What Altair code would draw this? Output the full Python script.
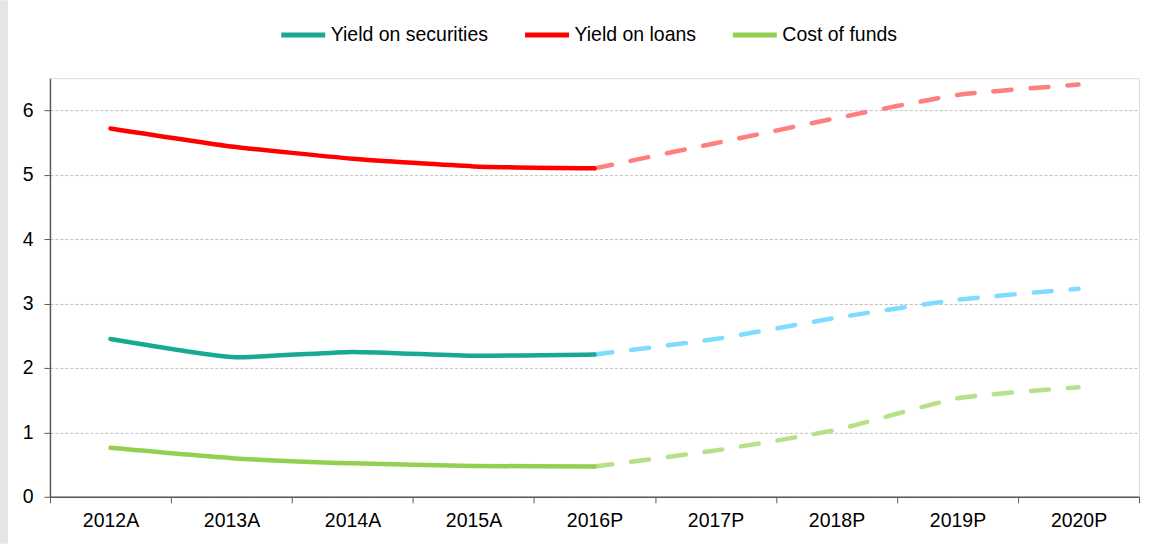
import altair as alt
import pandas as pd

categories = ["2012A", "2013A", "2014A", "2015A", "2016P", "2017P", "2018P", "2019P", "2020P"]
series_names = ["Yield on securities", "Yield on loans", "Cost of funds"]
yield_securities = [2.45, 2.17, 2.25, 2.19, 2.21, 2.45, 2.78, 3.06, 3.23]
yield_loans = [5.72, 5.44, 5.25, 5.13, 5.10, 5.49, 5.88, 6.24, 6.40]
cost_of_funds = [0.76, 0.60, 0.52, 0.48, 0.47, 0.72, 1.04, 1.53, 1.70]
actual_colors = ["#17A991", "#FF0000", "#92D050"]
proj_colors = ["#7FDCFF", "#FF7F7F", "#B6E08A"]
split_index = 4  # 2016P: last actual / first projected

rows = []
for name, vals in zip(series_names, [yield_securities, yield_loans, cost_of_funds]):
    for i, (c, v) in enumerate(zip(categories, vals)):
        if i <= split_index:
            rows.append({"year": c, "value": v, "series": name, "part": "actual", "pseries": name + " (P)"})
        if i >= split_index:
            rows.append({"year": c, "value": v, "series": name, "part": "proj", "pseries": name + " (P)"})
df = pd.DataFrame(rows)

W, H = 1090, 419
font = "Liberation Sans"

x_enc = alt.X("year:N", sort=categories, title=None,
              scale=alt.Scale(paddingInner=0, paddingOuter=0),
              axis=alt.Axis(labelAngle=0, tickBand="extent", labelFontSize=19.5, labelFont=font,
                            labelColor="#000000", labelPadding=9, tickSize=6, tickColor="#595959",
                            domainColor="#595959", domainWidth=1.5, grid=False))
y_enc = alt.Y("value:Q", title=None,
              scale=alt.Scale(domain=[0, 6.5], nice=False),
              axis=alt.Axis(values=[0, 1, 2, 3, 4, 5, 6], labelFontSize=19.5, labelFont=font,
                            labelColor="#000000", labelPadding=11, tickSize=6, tickColor="#595959",
                            domainColor="#595959", domainWidth=1.5, grid=True, gridColor="#BFBFBF",
                            gridDash=[3, 2], gridWidth=1))

base = alt.Chart(df)

actual = base.transform_filter(alt.datum.part == "actual").mark_line(
    interpolate="cardinal", tension=0.5, strokeWidth=4.5, strokeCap="round"
).encode(
    x=x_enc, y=y_enc,
    color=alt.Color("series:N", sort=series_names,
                    scale=alt.Scale(domain=series_names, range=actual_colors),
                    legend=alt.Legend(title=None, orient="none", direction="horizontal",
                                      legendX=229, legendY=-68, symbolType="stroke",
                                      symbolSize=1936, symbolStrokeWidth=5,
                                      labelFontSize=19.5, labelFont=font, labelColor="#000000",
                                      columnPadding=26, labelOffset=3, labelLimit=400)),
)

proj_domain = [n + " (P)" for n in series_names]
proj = base.transform_filter(alt.datum.part == "proj").mark_line(
    interpolate="cardinal", tension=0.5, strokeWidth=4.5, strokeCap="round", strokeDash=[18, 19]
).encode(
    x=x_enc, y=y_enc,
    color=alt.Color("pseries:N", scale=alt.Scale(domain=proj_domain, range=proj_colors), legend=None),
)

strip = alt.Chart(pd.DataFrame({"a": [0]})).mark_rect(color="#E5E6E5").encode(
    x=alt.value(-50), x2=alt.value(-42), y=alt.value(-78), y2=alt.value(H + 47)
)

chart = alt.layer(strip, proj, actual).resolve_scale(color="independent").properties(
    width=W, height=H,
    padding={"left": 0, "top": 0, "right": 23, "bottom": 0},
).configure_view(stroke=None).configure(background="white")

chart.save("out.html", embed_options={"renderer": "svg", "actions": False})
